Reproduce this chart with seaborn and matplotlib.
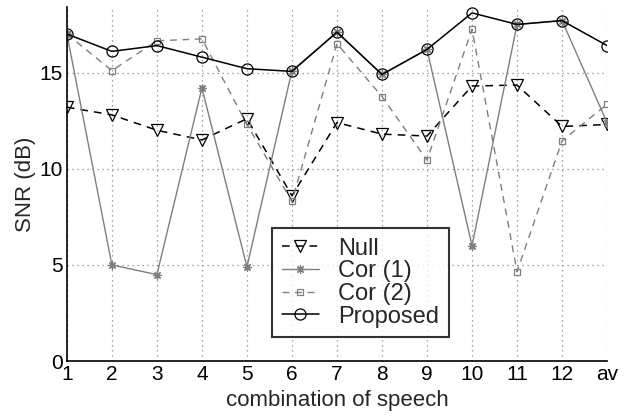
import numpy as np
import pandas as pd
import seaborn as sns
import matplotlib
matplotlib.use('Agg')
import matplotlib.pyplot as plt

# values
combos = list(range(1, 14))
tick_labels = ['1', '2', '3', '4', '5', '6', '7', '8', '9', '10', '11', '12', 'av']
null_snr = [13.2, 12.8, 12.0, 11.5, 12.6, 8.6, 12.4, 11.8, 11.7, 14.3, 14.35, 12.2, 12.3]
cor1_snr = [17.0, 5.0, 4.5, 14.2, 4.9, 15.1, 17.1, 14.9, 16.2, 6.0, 17.5, 17.7, 12.4]
cor2_snr = [17.0, 15.1, 16.65, 16.75, 12.3, 8.3, 16.5, 13.75, 10.45, 17.25, 4.65, 11.45, 13.35]
prop_snr = [17.0, 16.1, 16.4, 15.8, 15.2, 15.06, 17.1, 14.9, 16.2, 18.1, 17.5, 17.7, 16.4]

sns.set_style('white')
plt.rcParams['font.family'] = ['Liberation Sans', 'DejaVu Sans']

fig = plt.figure(figsize=(6.37, 4.19), dpi=100)
ax = fig.add_axes([0.105, 0.138, 0.848, 0.845])

gray = '#7f7f7f'
series = [
    ('Null', null_snr, 'black', (0, (5, 4)), 'v', 8, 1.1),
    ('Cor (1)', cor1_snr, gray, '-', (8, 2, 0), 6, 1.0),
    ('Cor (2)', cor2_snr, gray, (0, (5, 4)), 's', 5, 1.0),
    ('Proposed', prop_snr, 'black', '-', 'o', 8, 1.1),
]
for name, vals, col, ls, mk, ms, lw in series:
    df = pd.DataFrame({'x': combos, 'snr': vals})
    sns.lineplot(data=df, x='x', y='snr', ax=ax, color=col, linestyle=ls,
                 marker=mk, markersize=ms, markerfacecolor='none',
                 markeredgecolor=col, markeredgewidth=0.9, linewidth=lw,
                 label=name, sort=False)

ax.set_xlim(1, 13)
ax.set_ylim(0, 18.4)
ax.set_xticks(combos)
ax.set_xticklabels(tick_labels)
ax.set_yticks([0, 5, 10, 15])
ax.tick_params(direction='in', length=5, labelsize=15, colors='black', pad=3)
ax.grid(True, linestyle=(0, (1, 3)), color='#888888', linewidth=0.9)
for s in ['top', 'right']:
    ax.spines[s].set_visible(False)
for s in ['left', 'bottom']:
    ax.spines[s].set_color('black')
    ax.spines[s].set_linewidth(1.2)

ax.set_xlabel('combination of speech', fontsize=16)
ax.xaxis.set_label_coords(0.5, -0.082)
ax.set_ylabel('SNR (dB)', fontsize=16)
ax.yaxis.set_label_coords(-0.058, 0.5)

leg = ax.legend(loc='lower left', bbox_to_anchor=(0.38, 0.068), borderaxespad=0,
                fontsize=17, frameon=True, fancybox=False, handlelength=1.6,
                labelspacing=0.03, handletextpad=0.8, borderpad=0.4)
leg.get_frame().set_edgecolor('black')
leg.get_frame().set_linewidth(1.5)

fig.savefig('out.png', dpi=100)
